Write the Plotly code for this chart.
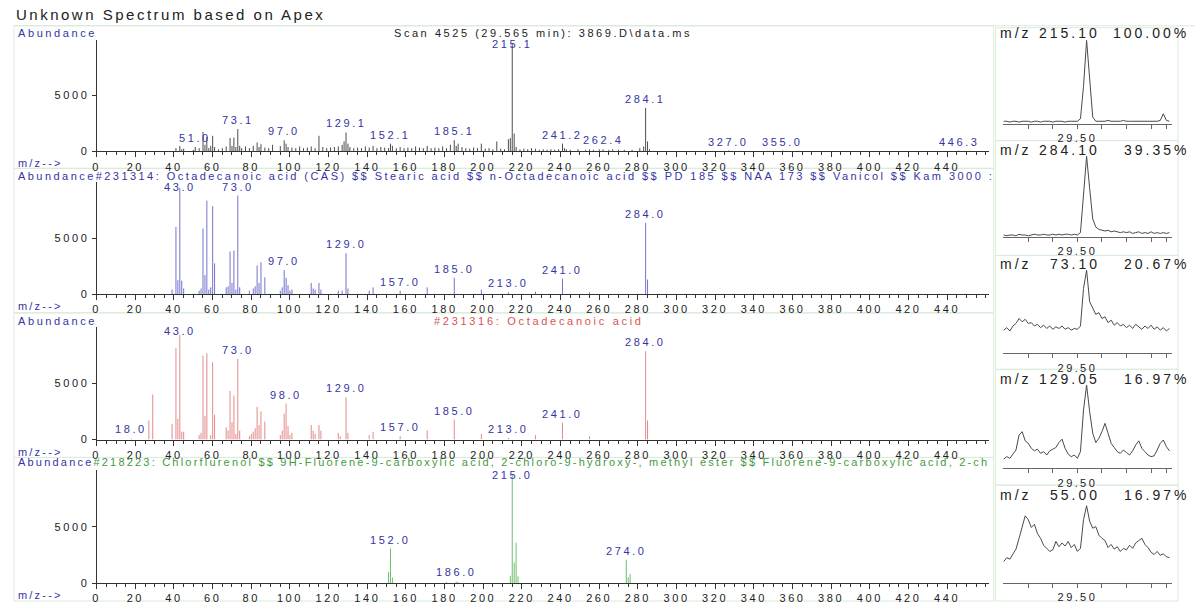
import plotly.graph_objects as go

W, H = 1195, 608

# ---------------- data ----------------
mz_ticks = [0, 20, 40, 60, 80, 100, 120, 140, 160, 180, 200, 220,
            240, 260, 280, 300, 320, 340, 360, 380, 400, 420, 440]
ab_ticks = [0, 5000]

# Unknown spectrum (scan 4525)
unk_mz = [41, 43, 44, 45, 50, 51, 53, 55, 56, 57,
          58, 59, 60, 61, 63, 65, 67, 69, 70, 71,
          72, 73, 74, 75, 77, 79, 81, 83, 84, 85,
          87, 89, 91, 95, 97, 98, 99, 101, 103, 105,
          107, 109, 111, 113, 115, 117, 119, 121, 123, 125,
          127, 128, 129, 130, 131, 133, 135, 137, 139, 141,
          143, 145, 147, 149, 151, 152, 153, 155, 157, 159,
          161, 163, 165, 167, 169, 171, 173, 175, 177, 179,
          181, 183, 185, 186, 187, 189, 191, 193, 195, 197,
          199, 201, 203, 205, 207, 209, 211, 213, 214, 215,
          216, 217, 219, 221, 223, 225, 227, 229, 231, 233,
          235, 237, 239, 241, 242, 243, 245, 249, 253, 255,
          257, 260, 262, 265, 267, 270, 273, 277, 281, 283,
          284, 285, 286, 327, 355, 446]
unk_ab = [300, 500, 200, 250, 150, 400, 300, 1750, 600, 1300,
          300, 500, 1400, 400, 200, 300, 450, 1200, 500, 1250,
          400, 2000, 500, 300, 450, 300, 500, 800, 400, 650,
          350, 300, 600, 500, 1000, 700, 400, 350, 300, 450,
          300, 350, 450, 300, 1400, 400, 300, 350, 400, 450,
          600, 900, 1700, 700, 400, 300, 350, 300, 450, 350,
          500, 300, 400, 350, 300, 700, 500, 300, 400, 300,
          350, 300, 450, 350, 300, 500, 300, 350, 300, 450,
          300, 600, 1000, 500, 700, 400, 300, 250, 350, 300,
          700, 250, 300, 200, 900, 250, 200, 1100, 1200, 9600,
          1600, 400, 200, 250, 200, 300, 250, 150, 200, 150,
          200, 150, 200, 700, 300, 200, 150, 200, 150, 200,
          150, 200, 200, 150, 200, 150, 150, 150, 300, 450,
          3900, 900, 200, 80, 80, 80]
unk_labels = ["51.0", "73.1", "97.0", "129.1", "152.1", "185.1", "215.1",
              "241.2", "262.4", "284.1", "327.0", "355.0", "446.3"]

# Library hit #231314
lib1_mz = [39, 41, 42, 43, 44, 45, 53, 54, 55, 56,
           57, 58, 59, 60, 61, 67, 68, 69, 70, 71,
           72, 73, 74, 79, 81, 82, 83, 84, 85, 87,
           95, 96, 97, 98, 99, 100, 101, 111, 112, 113,
           115, 116, 125, 127, 129, 130, 141, 143, 157, 171,
           185, 199, 213, 227, 241, 255, 284, 285]
lib1_ab = [400, 6000, 1250, 9500, 1200, 500, 300, 500, 5850, 1700,
           8350, 400, 600, 7850, 2750, 600, 700, 3800, 1000, 3900,
           400, 8800, 600, 300, 500, 700, 2550, 1000, 2850, 1500,
           300, 600, 2150, 1450, 800, 300, 400, 1000, 500, 400,
           1000, 400, 300, 300, 3650, 500, 300, 600, 300, 600,
           1450, 400, 150, 200, 1375, 150, 6370, 1300]
lib1_labels = ["43.0", "73.0", "97.0", "129.0", "157.0", "185.0",
               "213.0", "241.0", "284.0"]

# Library hit #231316
lib2_mz = [18, 27, 29, 39, 41, 42, 43, 44, 45, 53,
           54, 55, 56, 57, 59, 60, 61, 67, 68, 69,
           70, 71, 72, 73, 74, 79, 80, 81, 82, 83,
           84, 85, 87, 95, 96, 97, 98, 99, 100, 101,
           111, 112, 113, 115, 116, 125, 126, 129, 130, 141,
           143, 157, 171, 185, 199, 213, 227, 241, 255, 284,
           285]
lib2_ab = [100, 1700, 4000, 1400, 8100, 1850, 9300, 700, 700, 400,
           600, 7450, 2100, 7650, 400, 6850, 2200, 1100, 800, 4300,
           1550, 3900, 500, 7150, 800, 300, 500, 700, 1000, 2900,
           1300, 2500, 1600, 400, 800, 2300, 3200, 1200, 400, 600,
           1300, 800, 500, 1300, 800, 600, 300, 3750, 600, 400,
           700, 300, 800, 1780, 500, 150, 400, 1500, 300, 7830,
           1700]
lib2_labels = ["18.0", "43.0", "73.0", "98.0", "129.0", "157.0",
               "185.0", "213.0", "241.0", "284.0"]

# Library hit #218223
lib3_mz = [151, 152, 153, 181, 186, 187, 214, 215, 216, 217, 218, 274, 275, 276]
lib3_ab = [1000, 3070, 500, 100, 150, 100, 660, 9600, 1840, 3600, 600, 2070, 530, 810]
lib3_labels = ["152.0", "186.0", "215.0", "274.0"]

# Extracted ion chromatograms (relative intensity, %)
eic_time = [29.02, 29.04, 29.06, 29.08, 29.10, 29.12, 29.14, 29.16, 29.18, 29.20,
            29.22, 29.24, 29.26, 29.28, 29.30, 29.32, 29.34, 29.36, 29.38, 29.40,
            29.42, 29.44, 29.46, 29.48, 29.50, 29.52, 29.54, 29.56, 29.58, 29.60,
            29.62, 29.64, 29.66, 29.68, 29.70, 29.72, 29.74, 29.76, 29.78, 29.80,
            29.82, 29.84, 29.86, 29.88, 29.90, 29.92, 29.94, 29.96, 29.98, 30.00,
            30.02, 30.04, 30.06, 30.08, 30.10]
eic_215 = [3, 3, 2, 3, 3, 2, 3, 3, 3, 2,
           3, 3, 2, 3, 3, 3, 2, 3, 3, 3,
           2, 3, 3, 3, 3, 6, 45, 100, 48, 8,
           3, 3, 3, 3, 4, 3, 3, 3, 3, 4,
           3, 3, 3, 3, 3, 3, 3, 3, 3, 3,
           3, 4, 12, 4, 3]
eic_284 = [2, 1, 2, 2, 1, 3, 2, 2, 1, 2,
           3, 2, 2, 3, 2, 2, 3, 2, 3, 2,
           3, 3, 2, 3, 2, 5, 50, 100, 60, 22,
           12, 9, 8, 7, 8, 6, 7, 6, 5, 6,
           5, 6, 4, 5, 6, 4, 5, 4, 6, 4,
           5, 4, 5, 4, 5]
eic_73 = [28, 31, 27, 33, 36, 42, 38, 41, 36, 37,
          33, 35, 31, 34, 30, 33, 29, 32, 30, 33,
          29, 31, 28, 30, 29, 33, 78, 100, 62, 55,
          47, 49, 42, 44, 37, 40, 34, 37, 33, 35,
          31, 34, 30, 35, 32, 29, 33, 30, 34, 29,
          32, 28, 31, 27, 30]
eic_129 = [11, 14, 12, 17, 22, 40, 44, 33, 30, 24,
           21, 23, 18, 20, 16, 21, 23, 25, 31, 35,
           24, 17, 14, 16, 12, 20, 70, 100, 68, 42,
           31, 36, 44, 54, 42, 30, 25, 20, 18, 22,
           19, 16, 21, 28, 33, 24, 20, 16, 14, 15,
           22, 30, 34, 26, 21]
eic_55 = [28, 33, 31, 37, 44, 58, 74, 87, 82, 72,
          76, 64, 58, 49, 45, 41, 43, 54, 47, 52,
          48, 54, 46, 50, 41, 45, 82, 100, 80, 71,
          73, 62, 58, 55, 46, 50, 44, 47, 41, 45,
          43, 49, 45, 52, 55, 58, 50, 46, 40, 37,
          41, 36, 38, 34, 33]
eic_ions = ["215.10", "284.10", "73.10", "129.05", "55.00"]
eic_pct = ["100.00%", "39.35%", "20.67%", "16.97%", "16.97%"]
eic_ticks = [29.18, 29.34, 29.50, 29.66, 29.82, 29.98, 30.08]

# ---------------- styling ----------------
FONT = "Liberation Sans, Arial, sans-serif"
BLUE = "#3434a4"
DARK = "#222222"
BOX = "#d9ebd9"
LABEL_CAP = 8800
FS = 11      # small text size
LSP = 2.6    # letter spacing for small text


def sp(text, s=LSP):
    return f"<span style='letter-spacing:{s}px'>{text}</span>"


def fx(p):
    return p / W


def fy(p):
    return 1 - p / H


fig = go.Figure()
annotations = []
shapes = []
layout_axes = {}

spectra = [
    dict(mz=unk_mz, ab=unk_ab, labels=unk_labels, color="#4d4d4d", top=40, base=153),
    dict(mz=lib1_mz, ab=lib1_ab, labels=lib1_labels, color="#7373cf", top=184, base=297),
    dict(mz=lib2_mz, ab=lib2_ab, labels=lib2_labels, color="#e38a8a", top=330, base=444),
    dict(mz=lib3_mz, ab=lib3_ab, labels=lib3_labels, color="#6cbf6c", top=475, base=589),
]
boxes_left = [(26, 170), (170, 316), (316, 462), (462, 607)]

for i, s in enumerate(spectra, start=1):
    xs, ys = [], []
    for m, a in zip(s["mz"], s["ab"]):
        xs += [m, m, None]
        ys += [0, a, None]
    fig.add_trace(go.Scatter(x=xs, y=ys, mode="lines",
                             line=dict(color=s["color"], width=1),
                             xaxis=f"x{i}", yaxis=f"y{i}",
                             hoverinfo="skip", showlegend=False))
    lookup = dict(zip(s["mz"], s["ab"]))
    for lab in s["labels"]:
        m = float(lab)
        a = lookup.get(round(m), 0)
        annotations.append(dict(x=m, y=min(a, LABEL_CAP), xref=f"x{i}", yref=f"y{i}",
                                text=sp(lab), showarrow=False, xanchor="center",
                                yanchor="bottom", yshift=1,
                                font=dict(family=FONT, size=FS, color=BLUE)))
    layout_axes[f"xaxis{i}"] = dict(
        domain=[fx(93), fx(988)], range=[0, 461.5], anchor=f"y{i}",
        showline=True, linecolor="#333", linewidth=1,
        ticks="outside", ticklen=5, tickcolor="#333", tickwidth=1,
        tickmode="array", tickvals=mz_ticks,
        ticktext=[sp(str(t)) for t in mz_ticks],
        tickfont=dict(family=FONT, size=FS, color=DARK),
        minor=dict(ticks="outside", ticklen=3, tickcolor="#333", tickmode="linear",
                   tick0=0, dtick=5, showgrid=False),
        showgrid=False, zeroline=False, fixedrange=True)
    layout_axes[f"yaxis{i}"] = dict(
        domain=[fy(s["base"]), fy(s["top"])], range=[0, 10000], anchor=f"x{i}",
        showline=True, linecolor="#333", linewidth=1,
        ticks="outside", ticklen=4, tickcolor="#333",
        tickmode="array", tickvals=ab_ticks,
        ticktext=[sp(str(t)) for t in ab_ticks],
        tickfont=dict(family=FONT, size=FS, color=DARK),
        showgrid=False, zeroline=False, fixedrange=True)
    annotations.append(dict(x=fx(12), y=fy(s["base"] + 12), xref="paper", yref="paper",
                            text=sp("m/z--&gt;", 2.2), showarrow=False, xanchor="left",
                            yanchor="middle", font=dict(family=FONT, size=FS, color=BLUE)))
    y0, y1 = boxes_left[i - 1]
    shapes.append(dict(type="rect", xref="paper", yref="paper", x0=fx(10), x1=fx(993),
                       y0=fy(y1), y1=fy(y0), line=dict(color=BOX, width=1), layer="below"))

# Panel header texts
hdr = [
    (33, f"<span style='color:{BLUE}'>Abundance</span>", LSP),
    (178, f"<span style='color:{BLUE}'>Abundance#231314: Octadecanoic acid (CAS) $$ Stearic acid "
          f"$$ n-Octadecanoic acid $$ PD 185 $$ NAA 173 $$ Vanicol $$ Kam 3000 :</span>", 2.45),
    (324, f"<span style='color:{BLUE}'>Abundance</span>", LSP),
    (467, f"<span style='color:{BLUE}'>Abundance</span><span style='color:#3f9a3f'>#218223: "
          f"Chlorflurenol $$ 9H-Fluorene-9-carboxylic acid, 2-chloro-9-hydroxy-, methyl ester "
          f"$$ Fluorene-9-carboxylic acid, 2-ch</span>", 2.2),
]
for yy, txt, lsp in hdr:
    annotations.append(dict(x=fx(12), y=fy(yy), xref="paper", yref="paper",
                            text=sp(txt, lsp), showarrow=False, xanchor="left", yanchor="middle",
                            font=dict(family=FONT, size=FS, color=BLUE)))
annotations.append(dict(x=fx(541), y=fy(33), xref="paper", yref="paper",
                        text=sp("Scan 4525 (29.565 min): 3869.D\\data.ms", 2.55), showarrow=False,
                        xanchor="center", yanchor="middle",
                        font=dict(family=FONT, size=FS, color=DARK)))
annotations.append(dict(x=fx(537), y=fy(324), xref="paper", yref="paper",
                        text=sp("#231316: Octadecanoic acid", 2.7), showarrow=False,
                        xanchor="center", yanchor="middle",
                        font=dict(family=FONT, size=FS, color="#d9534f")))
annotations.append(dict(x=fx(10), y=fy(15), xref="paper", yref="paper",
                        text=sp("Unknown Spectrum based on Apex", 2.5), showarrow=False,
                        xanchor="left", yanchor="middle",
                        font=dict(family=FONT, size=15, color=DARK)))
shapes.append(dict(type="line", xref="paper", yref="paper", x0=fx(10), x1=1,
                   y0=fy(26), y1=fy(26), line=dict(color=BOX, width=1), layer="below"))

# ---------------- EIC panels ----------------
eic_series = [eic_215, eic_284, eic_73, eic_129, eic_55]
eic_geom = [  # label y, apex top, axis y, box top, box bottom
    (33, 40, 125, 28, 142),
    (151, 157, 239, 142, 258),
    (267, 272, 357, 258, 373),
    (383, 388, 473, 373, 490),
    (500, 510, 589, 490, 607),
]
for k, (ser, ion, pct, g) in enumerate(zip(eic_series, eic_ions, eic_pct, eic_geom)):
    j = 5 + k
    ly, top, axy, b0, b1 = g
    fig.add_trace(go.Scatter(x=eic_time, y=ser, mode="lines",
                             line=dict(color="#4a4a4a", width=1),
                             xaxis=f"x{j}", yaxis=f"y{j}", hoverinfo="skip",
                             showlegend=False))
    layout_axes[f"xaxis{j}"] = dict(
        domain=[fx(1002), fx(1172)], range=[29.013, 30.117], anchor=f"y{j}",
        showline=True, linecolor="#666", linewidth=1,
        ticks="outside", ticklen=4, tickcolor="#666",
        tickmode="array", tickvals=eic_ticks,
        ticktext=[sp("29.50", 2.4) if abs(t - 29.5) < 1e-9 else "" for t in eic_ticks],
        tickfont=dict(family=FONT, size=11, color=DARK),
        showgrid=False, zeroline=False, fixedrange=True)
    layout_axes[f"yaxis{j}"] = dict(
        domain=[fy(axy), fy(top)], range=[0, 101], anchor=f"x{j}",
        visible=False, fixedrange=True)
    annotations.append(dict(x=fx(997), y=fy(ly), xref="paper", yref="paper",
                            text=sp("m/z", 3.0), showarrow=False, xanchor="left",
                            yanchor="middle", font=dict(family=FONT, size=14, color=DARK)))
    annotations.append(dict(x=fx(1102), y=fy(ly), xref="paper", yref="paper",
                            text=sp(ion, 3.0), showarrow=False, xanchor="right",
                            yanchor="middle", font=dict(family=FONT, size=14, color=DARK)))
    annotations.append(dict(x=fx(1191), y=fy(ly), xref="paper", yref="paper",
                            text=sp(pct, 3.0), showarrow=False, xanchor="right",
                            yanchor="middle", font=dict(family=FONT, size=14, color=DARK)))
    shapes.append(dict(type="rect", xref="paper", yref="paper", x0=fx(995), x1=fx(1178),
                       y0=fy(b1), y1=fy(b0), line=dict(color=BOX, width=1), layer="below"))

fig.update_layout(
    width=W, height=H, margin=dict(l=0, r=0, t=0, b=0),
    paper_bgcolor="white", plot_bgcolor="white",
    showlegend=False, hovermode=False,
    font=dict(family=FONT, size=FS, color=DARK),
    annotations=annotations, shapes=shapes,
    **layout_axes,
)

fig.write_html("out.html", config={"displayModeBar": False, "staticPlot": True},
               post_script="document.body.style.margin='0';")
